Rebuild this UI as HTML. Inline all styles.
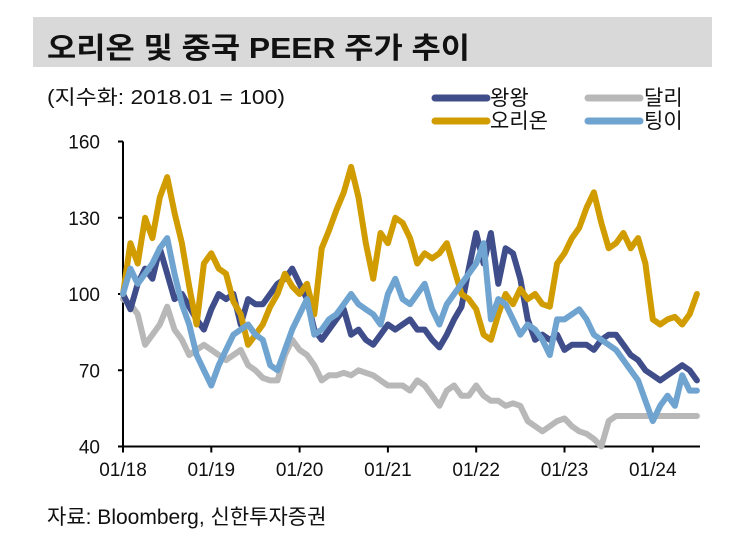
<!DOCTYPE html>
<html><head><meta charset="utf-8"><style>
html,body{margin:0;padding:0;background:#fff;}
svg{display:block;font-family:"Liberation Sans","Noto Sans CJK KR",sans-serif;}
</style></head><body>
<svg id="chart" width="734" height="552" viewBox="0 0 734 552">
<rect x="33" y="17" width="679" height="50" fill="#d9d9d9"/>
<text x="47" y="58" font-size="29" font-weight="bold" textLength="423" lengthAdjust="spacingAndGlyphs" fill="#111">오리온 및 중국 PEER 주가 추이</text>
<text x="47" y="104" font-size="20" textLength="238" lengthAdjust="spacingAndGlyphs" fill="#111">(지수화: 2018.01 = 100)</text>
<g>
<line x1="435" y1="98" x2="487" y2="98" stroke="#3f4d8a" stroke-width="7" stroke-linecap="round"/>
<text x="490" y="105" font-size="21" fill="#111">왕왕</text>
<line x1="588" y1="98" x2="640" y2="98" stroke="#b8b8b8" stroke-width="7" stroke-linecap="round"/>
<text x="644" y="105" font-size="21" fill="#111">달리</text>
<line x1="435" y1="121" x2="487" y2="121" stroke="#d19c00" stroke-width="7" stroke-linecap="round"/>
<text x="490" y="128" font-size="21" fill="#111">오리온</text>
<line x1="588" y1="121" x2="640" y2="121" stroke="#6fa3d0" stroke-width="7" stroke-linecap="round"/>
<text x="644" y="128" font-size="21" fill="#111">팅이</text>
</g>
<g id="axes"></g>
<g id="series"></g>
<text x="47" y="524" font-size="21" fill="#111">자료: Bloomberg, 신한투자증권</text>
</svg>
<script>
const yTicks=[40,70,100,130,160];
const xLabels=["01/18","01/19","01/20","01/21","01/22","01/23","01/24"];
const orion=[100,120,112,130,122,138,146,132,120,103,88,112,116,110,108,97,92,80,84,88,95,100,108,103,100,104,92,118,125,133,140,150,138,120,106,124,120,130,128,122,112,116,114,116,120,110,100,98,94,84,82,92,100,96,102,98,100,96,95,112,116,122,126,134,140,128,118,120,124,118,122,112,90,88,90,91,88,92,100];
const wangwang=[100,94,104,110,106,118,108,98,100,95,90,86,94,100,98,100,88,98,96,96,100,104,106,110,104,98,86,82,86,90,94,84,86,82,80,84,88,86,88,90,86,86,82,79,84,90,95,110,124,112,124,104,118,116,106,90,82,84,82,84,78,80,80,80,78,82,84,84,80,76,74,70,68,66,68,70,72,70,66];
const tingyi=[100,110,104,108,112,118,122,108,96,88,76,70,64,72,78,84,86,88,84,82,72,70,78,86,92,98,84,86,90,92,96,100,96,94,92,88,100,106,98,96,100,104,94,88,96,100,104,108,112,120,90,98,96,90,84,88,86,82,76,90,90,92,94,90,84,82,80,78,74,70,66,58,50,56,60,56,68,62,62];
const dali=[98,96,92,80,84,88,95,86,82,76,78,80,78,76,74,76,78,72,70,67,66,66,76,82,78,76,72,66,68,68,69,68,70,69,68,66,64,64,64,62,66,64,60,56,62,64,60,60,64,60,58,58,56,57,56,50,48,46,48,50,51,48,46,45,43,40,50,52,52,52,52,52,52,52,52,52,52,52,52];
const NS='http://www.w3.org/2000/svg';
const X0=123,YEARW=88.3,Y0=446.5,YTOP=141.5;
function xs(m){return X0+m*YEARW/12;}
function ys(v){return Y0-(v-40)/(120)*(Y0-YTOP);}
const ax=document.getElementById('axes');
function mk(t,a,p){const e=document.createElementNS(NS,t);for(const k in a)e.setAttribute(k,a[k]);(p||ax).appendChild(e);return e;}
let yl=mk('line',{x1:X0,y1:YTOP,x2:X0,y2:Y0,stroke:'#000','stroke-width':2});


let xl=mk('line',{x1:X0,y1:Y0,x2:700,y2:Y0,stroke:'#000','stroke-width':2});


yTicks.forEach(v=>{
  mk('line',{x1:X0-5,y1:ys(v),x2:X0,y2:ys(v),stroke:'#000','stroke-width':2});
  const t=mk('text',{x:100,y:ys(v)+7,'font-size':19,'text-anchor':'end',fill:'#111'});
  t.textContent=v;
  
  
});
xLabels.forEach((s,i)=>{
  const x=xs(i*12);
  mk('line',{x1:x,y1:Y0,x2:x,y2:Y0+6,stroke:'#000','stroke-width':2});
  const t=mk('text',{x:x,y:476,'font-size':19,'text-anchor':'middle',fill:'#111'});
  t.textContent=s;
  
  
});
const sg=document.getElementById('series');
function draw(arr,color,name){
  const d=arr.map((v,i)=>(i?'L':'M')+xs(i).toFixed(1)+','+ys(v).toFixed(1)).join('');
  const p=mk('path',{d:d,fill:'none',stroke:color,'stroke-width':6,'stroke-linejoin':'round','stroke-linecap':'round'},sg);
  
  
}
draw(dali,'#b8b8b8','line-dali');
draw(wangwang,'#3f4d8a','line-wangwang');
draw(orion,'#d19c00','line-orion');
draw(tingyi,'#6fa3d0','line-tingyi');
</script>
</body></html>
